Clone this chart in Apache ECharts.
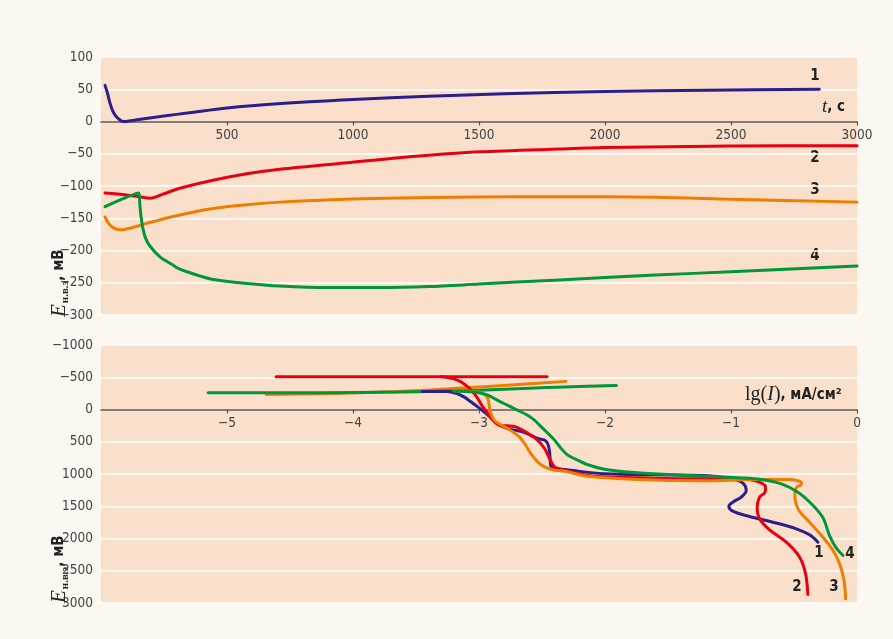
<!DOCTYPE html>
<html>
<head>
<meta charset="utf-8">
<script src="https://cdn.jsdelivr.net/npm/echarts@6/dist/echarts.min.js"></script>
<style>
  html, body { margin: 0; padding: 0; background: #fcf7f0; }
  #chart { width: 893px; height: 639px; }
</style>
</head>
<body>
<div id="chart"></div>
<script>
// ---- Open-circuit potential vs time, [t (s), E (mV)] ----
const timeTicks = [0, 500, 1000, 1500, 2000, 2500, 3000];
const potentialTicks = [-300, -250, -200, -150, -100, -50, 0, 50, 100];

const ocp1 = [[16,56],[25,45],[36,28],[46,17],[56,10],[70,4],[88,0],[150,3],[250,8.5],[350,13.5],
  [500,21],[700,27.5],[1000,34],[1300,39],[1600,43],[2000,46.5],[2400,48.5],[2850,50]];
const ocp2 = [[16,-111],[100,-114],[150,-116.5],[195,-119],[250,-112],[313,-103.5],[444,-91],[579,-81],
  [710,-74],[976,-64],[1250,-54],[1504,-47],[1821,-42.6],[2000,-40.5],[2500,-38],[3000,-37.5]];
const ocp3 = [[16,-148],[30,-158],[50,-165],[75,-168],[120,-165],[181,-158],[300,-146],[445,-135],
  [580,-129],[710,-125],[1000,-120],[1500,-117],[1800,-116.5],[2200,-117.5],[2500,-120.5],[3000,-125]];
const ocp4 = [[16,-132],[150,-111],[154,-128],[159,-148],[166,-165],[176,-180],[194,-193],[234,-210],
  [287,-223],[313,-229],[380,-238],[446,-245],[578,-251],[710,-255],[900,-257.5],[1100,-257.5],
  [1300,-256],[1500,-252],[1800,-246],[2200,-238],[2500,-233],[3000,-224]];

// ---- Polarization curves, [lg(I), E (mV)] ----
const lgTicks = [-6, -5, -4, -3, -2, -1, 0];
const polTicks = [-1000, -500, 0, 500, 1000, 1500, 2000, 2500, 3000];

// cathodic branches
const cath2 = [[-4.61,-507],[-2.46,-507]];
const cath3 = [[-4.69,-233],[-4.2,-246],[-3.7,-275],[-3.36,-308],[-3.0,-350],[-2.6,-398],[-2.31,-436]];
const cath4 = [[-5.15,-258],[-4.5,-259],[-4.0,-263],[-3.6,-272],[-3.36,-283],[-3.0,-300],[-2.6,-330],
  [-2.32,-350],[-1.91,-372]];

// anodic branches
const anod1 = [[-3.45,-278],[-3.25,-280],[-3.18,-250],[-3.12,-196],[-3.065,-119],[-3.01,-41],[-2.96,36],
  [-2.905,129],[-2.855,217],[-2.79,284],[-2.72,320],[-2.655,346],[-2.59,398],[-2.535,450],[-2.48,475],
  [-2.455,527],[-2.44,656],[-2.435,786],[-2.43,873],[-2.39,915],[-2.32,930],[-2.006,997],[-1.608,1013],
  [-1.21,1023],[-0.998,1075],[-0.906,1142],[-0.879,1256],[-0.919,1359],[-0.986,1437],[-1.017,1499],
  [-0.986,1577],[-0.853,1659],[-0.668,1747],[-0.482,1850],[-0.376,1943],[-0.31,2057]];
const anod2 = [[-3.3,-507],[-3.25,-496],[-3.17,-455],[-3.105,-377],[-3.05,-274],[-3.01,-171],[-2.97,-41],
  [-2.93,62],[-2.89,165],[-2.84,243],[-2.775,253],[-2.71,269],[-2.655,320],[-2.59,398],[-2.535,475],
  [-2.48,605],[-2.44,760],[-2.40,889],[-2.32,940],[-2.1,1030],[-1.74,1060],[-1.343,1075],[-0.946,1068],
  [-0.813,1100],[-0.747,1152],[-0.726,1204],[-0.73,1282],[-0.773,1359],[-0.792,1515],[-0.773,1695],
  [-0.694,1866],[-0.561,2057],[-0.455,2290],[-0.408,2548],[-0.39,2868]];
const anod3 = [[-3.2,-292],[-3.04,-284],[-2.97,-248],[-2.93,-171],[-2.92,-67],[-2.905,62],[-2.88,165],
  [-2.83,233],[-2.75,320],[-2.68,424],[-2.63,553],[-2.59,682],[-2.535,811],[-2.48,889],[-2.40,941],
  [-2.32,956],[-2.138,1034],[-1.741,1085],[-1.21,1106],[-0.813,1085],[-0.548,1085],[-0.47,1105],
  [-0.44,1140],[-0.45,1175],[-0.48,1205],[-0.493,1300],[-0.49,1411],[-0.461,1566],[-0.376,1747],
  [-0.27,1980],[-0.19,2186],[-0.138,2393],[-0.103,2651],[-0.09,2935]];
const anod4 = [[-3.2,-285],[-3.08,-275],[-3.01,-264],[-2.93,-222],[-2.855,-145],[-2.775,-67],[-2.695,10],
  [-2.615,88],[-2.56,165],[-2.51,262],[-2.455,365],[-2.40,475],[-2.35,600],[-2.297,705],[-2.2,800],
  [-2.138,855],[-2.006,925],[-1.741,982],[-1.343,1023],[-0.946,1059],[-0.76,1085],[-0.60,1152],
  [-0.469,1282],[-0.362,1462],[-0.27,1680],[-0.217,1960],[-0.164,2150],[-0.111,2264]];

const curveNames = ['1', '2', '3', '4'];

// ---- styling ----
const COLORS = ['#2d1e8c', '#e60012', '#f07d00', '#00963c'];
const PLOT_BG = '#fae0cb';
const NARROW = '"Liberation Sans Narrow", "DejaVu Sans Condensed", sans-serif';
const SERIF = '"Liberation Serif", "DejaVu Serif", serif';
const TEXT = '#222';

const fmt = v => (v < 0 ? '\u2212' + (-v) : String(v));

// Plot frames: 0/1 hold the curves, 2/3 are strips ending at E = 0 whose
// bottom edge carries the abscissa (line, ticks and labels) at zero potential.
const LEFT = 101, RIGHT = 36;
const grids = [
  { left: LEFT, right: RIGHT, top: 57, height: 258, show: true, backgroundColor: PLOT_BG, borderWidth: 0 },
  { left: LEFT, right: RIGHT, top: 345, height: 258, show: true, backgroundColor: PLOT_BG, borderWidth: 0 },
  { left: LEFT, right: RIGHT, top: 57, height: 64.5, show: false },
  { left: LEFT, right: RIGHT, top: 345, height: 64.5, show: false }
];

function hiddenX(gridIndex, ticks) {
  return { type: 'value', gridIndex, show: false,
    min: ticks[0], max: ticks[ticks.length - 1], interval: ticks[1] - ticks[0] };
}
function zeroX(gridIndex, ticks) {
  return {
    type: 'value', gridIndex, position: 'bottom',
    min: ticks[0], max: ticks[ticks.length - 1], interval: ticks[1] - ticks[0],
    axisLine: { show: true, onZero: false, lineStyle: { color: '#5a5452', width: 1.5 } },
    axisTick: { show: true, length: 4, lineStyle: { color: '#5a5452', width: 1.2 } },
    axisLabel: { showMinLabel: false, color: '#444', fontFamily: NARROW, fontSize: 13.5, margin: 7, formatter: fmt },
    splitLine: { show: false }
  };
}
function valueY(gridIndex, ticks, inverse) {
  return {
    type: 'value', gridIndex, inverse,
    min: ticks[0], max: ticks[ticks.length - 1], interval: ticks[1] - ticks[0],
    axisLine: { show: false }, axisTick: { show: false },
    axisLabel: { color: '#444', fontFamily: NARROW, fontSize: 13.5, margin: 8, formatter: fmt },
    splitLine: { show: true, lineStyle: { color: '#ffffff', width: 1.5 } }
  };
}
function stripY(gridIndex, min, max, inverse) {
  return { type: 'value', gridIndex, show: false, inverse, min, max };
}
function lineSeries(data, idx, axisIdx, smooth) {
  return {
    type: 'line', data, xAxisIndex: axisIdx, yAxisIndex: axisIdx,
    showSymbol: false, smooth, clip: false, animation: false, z: 3,
    lineStyle: { color: COLORS[idx], width: 3, cap: 'round', join: 'round' }, itemStyle: { color: COLORS[idx] }
  };
}

const ocpSets = [ocp1, ocp2, ocp3, ocp4];
const cathSets = [null, cath2, cath3, cath4];
const anodSets = [anod1, anod2, anod3, anod4];

const series = [];
ocpSets.forEach((d, i) => series.push(lineSeries(d, i, 0, 0.3)));
cathSets.forEach((d, i) => { if (d) series.push(lineSeries(d, i, 1, 0.3)); });
anodSets.forEach((d, i) => series.push(lineSeries(d, i, 1, 0.35)));

function yName(x, y) {
  return {
    type: 'text', x, y, rotation: Math.PI / 2,
    style: {
      text: '{e|E}{s|н.в.э}{u|, мВ}',
      align: 'left', verticalAlign: 'middle', fill: TEXT,
      rich: {
        e: { fontFamily: SERIF, fontStyle: 'italic', fontSize: 21, fill: TEXT, lineHeight: 24, verticalAlign: 'middle' },
        s: { fontFamily: SERIF, fontWeight: 'bold', fontSize: 11, fill: TEXT, lineHeight: 24, verticalAlign: 'bottom', padding: [0, 0, 0, 1] },
        u: { fontFamily: NARROW, fontWeight: 'bold', fontSize: 15, fill: TEXT, lineHeight: 24, verticalAlign: 'middle' }
      }
    }
  };
}
function curveTag(text, x, y) {
  return {
    type: 'text', x, y,
    style: { text, align: 'center', verticalAlign: 'middle', fill: TEXT, font: 'bold 15px ' + NARROW }
  };
}

const option = {
  backgroundColor: '#fcf7f0',
  animation: false,
  grid: grids,
  xAxis: [hiddenX(0, timeTicks), hiddenX(1, lgTicks), zeroX(2, timeTicks), zeroX(3, lgTicks)],
  yAxis: [valueY(0, potentialTicks, false), valueY(1, polTicks, true),
          stripY(2, 0, 100, false), stripY(3, -1000, 0, true)],
  series,
  graphic: [
    yName(59, 317),
    yName(59, 603),
    {
      type: 'text', x: 822, y: 107,
      style: {
        text: '{t|t}{u|, с}', align: 'left', verticalAlign: 'middle',
        rich: {
          t: { fontFamily: SERIF, fontStyle: 'italic', fontSize: 19, fill: TEXT },
          u: { fontFamily: NARROW, fontWeight: 'bold', fontSize: 15, fill: TEXT }
        }
      }
    },
    {
      type: 'text', x: 745, y: 395,
      style: {
        text: '{a|lg(}{i|I}{a|)}{u|, мА/см²}', align: 'left', verticalAlign: 'middle',
        rich: {
          a: { fontFamily: SERIF, fontSize: 20, fill: TEXT },
          i: { fontFamily: SERIF, fontStyle: 'italic', fontSize: 20, fill: TEXT },
          u: { fontFamily: NARROW, fontWeight: 'bold', fontSize: 15, fill: TEXT }
        }
      }
    },
    curveTag(curveNames[0], 815, 76),
    curveTag(curveNames[1], 815, 158),
    curveTag(curveNames[2], 815, 190),
    curveTag(curveNames[3], 815, 256),
    curveTag(curveNames[0], 819, 553),
    curveTag(curveNames[3], 850, 554),
    curveTag(curveNames[1], 797, 587),
    curveTag(curveNames[2], 834, 587)
  ]
};

const chart = echarts.init(document.getElementById('chart'), null, { renderer: 'canvas' });
chart.setOption(option);
</script>
</body>
</html>
